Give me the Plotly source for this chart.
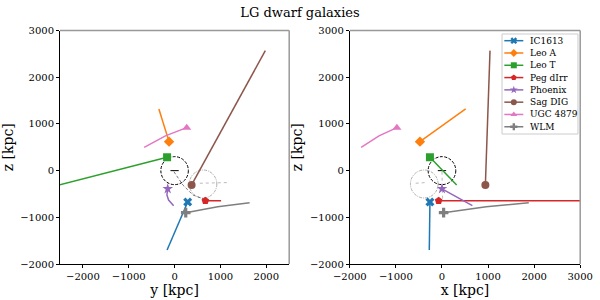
import plotly.graph_objects as go

# Galaxy trajectories: first point = current position (marker), rest = path (kpc)
names = ["IC1613", "Leo A", "Leo T", "Peg dIrr", "Phoenix", "Sag DIG", "UGC 4879", "WLM"]
colors = ["#1f77b4", "#ff7f0e", "#2ca02c", "#d62728", "#9467bd", "#8c564b", "#e377c2", "#7f7f7f"]
symbols = ["x", "diamond", "square", "pentagon", "star", "circle", "triangle-up", "cross"]

traj_x = [
    [-261, -275],
    [-478, 514],
    [-261, 319],
    [-72, 3600],
    [0, 238, 438, 636, 660],
    [942, 1043],
    [-978, -1366, -1754],
    [36, 960, 1884],
]
traj_y = [
    [286, -164],
    [-121, -343],
    [-164, -2520],
    [671, 1014],
    [-150, -168, -131, -37, -21],
    [371, 1979],
    [264, -200, -664],
    [243, 940, 1636],
]
traj_z = [
    [-671, -1700],
    [621, 1321],
    [286, -307],
    [-643, -643],
    [-390, -522, -630, -737, -750],
    [-307, 2571],
    [921, 745, 500],
    [-900, -775, -686],
]

# Milky Way and M31 reference features
mw_center = (0, 0, 0)
m31_center = (-384, 621, -286)
halo_radius = 300
mw_bar = [-90, 90]
mw_path_x = [0, 5, 10, 15]
mw_path_y = [-15, 181, 400, 655]
mw_path_z = [-23, -308, -522, -615]
m31_path_x = [-570, -340]
m31_path_y = [550, 1193]
m31_path_z = [-270, -255]

FONT = "DejaVu Serif"
fig = go.Figure()

panels = [("x", "y", traj_y, 1), ("x2", "y2", traj_x, 2)]
for xa, ya, horiz, k in panels:
    fig.add_trace(go.Scatter(
        x=(mw_path_y if k == 1 else mw_path_x), y=mw_path_z, mode="lines",
        line=dict(color="#555" if k == 1 else "#aaa", width=0.8, dash="3px,2px" if k == 1 else "dot"),
        xaxis=xa, yaxis=ya, showlegend=False, hoverinfo="skip"))
    fig.add_trace(go.Scatter(
        x=(m31_path_y if k == 1 else m31_path_x), y=m31_path_z, mode="lines",
        line=dict(color="#bbb", width=1, dash="dot"),
        xaxis=xa, yaxis=ya, showlegend=False, hoverinfo="skip"))
    fig.add_trace(go.Scatter(
        x=mw_bar, y=[0, 0], mode="lines", line=dict(color="black", width=1),
        xaxis=xa, yaxis=ya, showlegend=False, hoverinfo="skip"))
    hc_mw = mw_center[1] if k == 1 else mw_center[0]
    hc_m31 = m31_center[1] if k == 1 else m31_center[0]
    fig.add_shape(type="circle", xref=xa, yref=ya, layer="below",
                  x0=hc_mw - halo_radius, x1=hc_mw + halo_radius,
                  y0=mw_center[2] - halo_radius, y1=mw_center[2] + halo_radius,
                  line=dict(color="black", width=1, dash="3px,1.5px"))
    fig.add_shape(type="circle", xref=xa, yref=ya, layer="below",
                  x0=hc_m31 - halo_radius, x1=hc_m31 + halo_radius,
                  y0=m31_center[2] - halo_radius, y1=m31_center[2] + halo_radius,
                  line=dict(color="#999", width=0.8, dash="3px,1px,1px,1px"))
    for i, n in enumerate(names):
        fig.add_trace(go.Scatter(
            x=horiz[i], y=traj_z[i], mode="lines", line=dict(color=colors[i], width=1.5),
            xaxis=xa, yaxis=ya, showlegend=False, hoverinfo="skip"))
        fig.add_trace(go.Scatter(
            x=[horiz[i][0]], y=[traj_z[i][0]], mode="markers", name=n,
            marker=dict(color=colors[i], symbol=symbols[i], size=8),
            xaxis=xa, yaxis=ya, showlegend=False))
    # gray top/right spines
    fig.add_shape(type="line", xref=f"{xa} domain", yref=f"{ya} domain",
                  x0=0, x1=1, y0=1, y1=1, line=dict(color="#999", width=1.5))
    fig.add_shape(type="line", xref=f"{xa} domain", yref=f"{ya} domain",
                  x0=1, x1=1, y0=0, y1=1, line=dict(color="#999", width=1.5))

# Custom legend drawn on a hidden inset axis (rows indexed by galaxy order)
leg_rows = list(range(len(names)))
for i, n in enumerate(names):
    fig.add_trace(go.Scatter(
        x=[2.3, 11.8, 21.3], y=[leg_rows[i]] * 3, mode="lines",
        line=dict(color=colors[i], width=1.5), xaxis="x3", yaxis="y3",
        showlegend=False, hoverinfo="skip"))
    fig.add_trace(go.Scatter(
        x=[11.8], y=[leg_rows[i]], mode="markers",
        marker=dict(color=colors[i], symbol=symbols[i], size=6),
        xaxis="x3", yaxis="y3", showlegend=False, hoverinfo="skip"))
    fig.add_annotation(x=26.3, y=leg_rows[i], xref="x3", yref="y3", text=n,
                       showarrow=False, xanchor="left", yanchor="middle",
                       font=dict(family=FONT, size=9, color="black"))
fig.add_shape(type="rect", xref="x3 domain", yref="y3 domain", x0=0, x1=1, y0=0, y1=1,
              fillcolor="white", line=dict(color="#ccc", width=1), layer="below")

axis_common = dict(showgrid=False, zeroline=False, showline=True, linecolor="black",
                   linewidth=1, ticks="outside", ticklen=3, tickcolor="black",
                   tickfont=dict(family=FONT, size=10, color="black"), dtick=1000,
                   automargin=False)
title_font = dict(family=FONT, size=14, color="black")

fig.update_layout(
    width=600, height=300,
    margin=dict(l=0, r=0, t=0, b=0),
    plot_bgcolor="rgba(0,0,0,0)", paper_bgcolor="white",
    title=dict(text="LG dwarf galaxies", x=0.5, xanchor="center", y=0.96, yanchor="middle",
               font=dict(family=FONT, size=13, color="black")),
    xaxis=dict(domain=[0.1, 0.482], range=[-2500, 2500], anchor="y",
               title=dict(text="y [kpc]", font=title_font, standoff=2), **axis_common),
    yaxis=dict(domain=[0.12, 0.898], range=[-2000, 3000], anchor="x",
               title=dict(text="z [kpc]", font=title_font, standoff=4), **axis_common),
    xaxis2=dict(domain=[0.583, 0.967], range=[-2000, 3000], anchor="y2",
                title=dict(text="x [kpc]", font=title_font, standoff=2), **axis_common),
    yaxis2=dict(domain=[0.12, 0.898], range=[-2000, 3000], anchor="x2",
                title=dict(text="z [kpc]", font=title_font, standoff=4), **axis_common),
    xaxis3=dict(domain=[0.8367, 0.9633], range=[0, 76], anchor="y3", visible=False,
                fixedrange=True),
    yaxis3=dict(domain=[0.5533, 0.8867], range=[7.59, -0.545], anchor="x3", visible=False,
                fixedrange=True),
    showlegend=False,
)

fig.write_html("out.html", config={"displayModeBar": False},
               post_script="document.body.style.margin='0';")
